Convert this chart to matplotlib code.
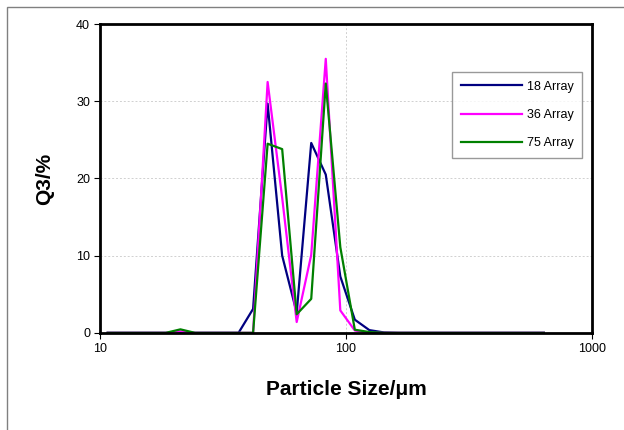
import matplotlib
matplotlib.use('Agg')
import matplotlib.pyplot as plt
from matplotlib.patches import Rectangle
from matplotlib.ticker import FixedLocator, NullLocator, FuncFormatter

plt.rcParams['font.family'] = ['Liberation Sans', 'DejaVu Sans']

# Data
sizes = [10.76, 12.33, 14.13, 16.19, 18.55, 21.25, 24.34, 27.89, 31.95, 36.60,
         41.93, 48.04, 55.04, 63.05, 72.23, 82.75, 94.81, 108.6, 124.4, 142.6,
         163.3, 187.1, 214.4, 245.6, 281.4, 322.4, 369.3, 423.1, 484.7, 555.3,
         636.2]
q3_18 = [0, 0, 0, 0, 0, 0, 0, 0, 0, 0,
         3.1, 29.7, 10.0, 2.6, 24.6, 20.5, 7.3, 1.7, 0.35, 0.05,
         0, 0, 0, 0, 0, 0, 0, 0, 0, 0, 0]
q3_36 = [0, 0, 0, 0, 0, 0.2, 0, 0, 0, 0,
         0, 32.5, 17.5, 1.4, 10.1, 35.5, 2.9, 0.3, 0, 0,
         0, 0, 0, 0, 0, 0, 0, 0, 0, 0, 0]
q3_75 = [0, 0, 0, 0, 0, 0.45, 0, 0, 0, 0,
         0, 24.5, 23.8, 2.4, 4.4, 32.3, 11.1, 0.4, 0.1, 0,
         0, 0, 0, 0, 0, 0, 0, 0, 0, 0, 0]
series_names = ['18 Array', '36 Array', '75 Array']
series_colors = ['#000080', '#FF00FF', '#008000']


def plot():
    fig = plt.figure(figsize=(6.24, 4.3), dpi=100)
    ax = fig.add_axes([0.160, 0.226, 0.789, 0.718])

    for vals, name, col in zip([q3_18, q3_36, q3_75], series_names, series_colors):
        ax.plot(sizes, vals, color=col, lw=1.6, label=name)

    ax.set_xscale('log')
    ax.set_xlim(10, 1000)
    ax.set_ylim(0, 40)
    ax.xaxis.set_major_locator(FixedLocator([10, 100, 1000]))
    ax.xaxis.set_minor_locator(NullLocator())
    ax.xaxis.set_major_formatter(FuncFormatter(lambda v, p: '%d' % v))
    ax.set_yticks([0, 10, 20, 30, 40])

    # Gridlines
    ax.grid(True, color='#d0d0d0', ls=(0, (2, 2)), lw=0.7)
    ax.set_axisbelow(True)

    for s in ax.spines.values():
        s.set_linewidth(2)
        s.set_color('black')
    ax.tick_params(direction='out', length=4, width=0.8, labelsize=9, pad=3)

    ax.set_xlabel('Particle Size/\u03bcm', fontsize=15, fontweight='bold', labelpad=18)
    ax.set_ylabel('Q3/%', fontsize=15, fontweight='bold', labelpad=16)

    leg = ax.legend(loc='upper right', bbox_to_anchor=(0.980, 0.845), fontsize=9,
                    frameon=True, fancybox=False, handlelength=4.9,
                    labelspacing=1.3, borderpad=0.7, handletextpad=0.4,
                    borderaxespad=0)
    leg.get_frame().set_edgecolor('#808080')
    leg.get_frame().set_linewidth(1)

    # Outer chart border
    fig.patches.append(Rectangle((7 / 624, -0.2), 1.2, 1.2 - 7 / 430,
                                 transform=fig.transFigure, fill=False,
                                 edgecolor='#808080', lw=1))

    fig.savefig('out.png', dpi=100)


if __name__ == '__main__':
    plot()
